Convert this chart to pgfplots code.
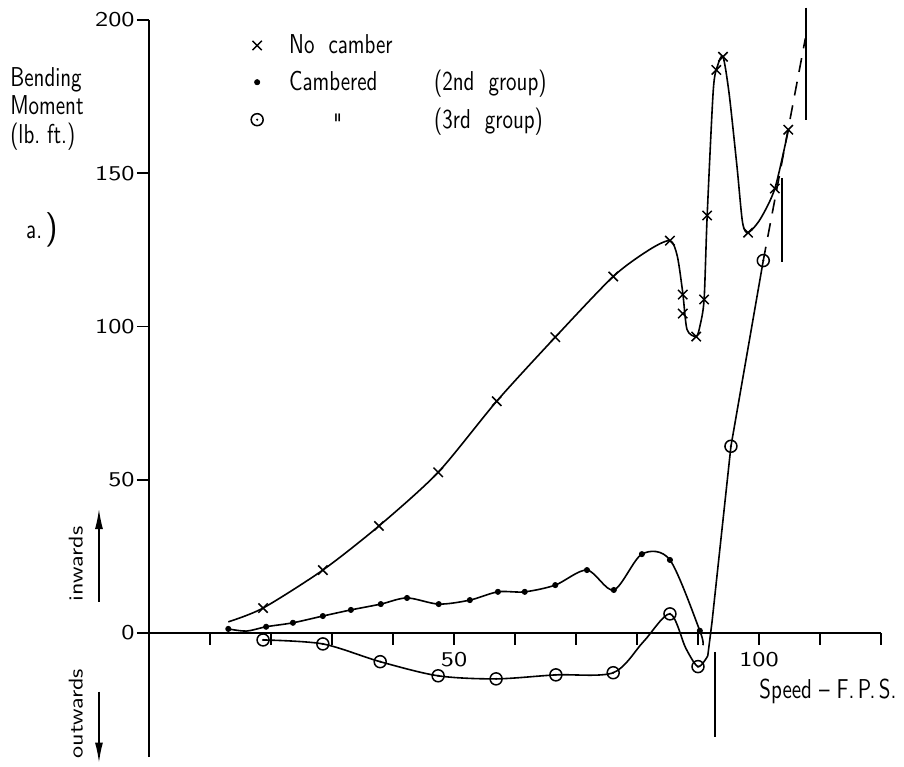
\documentclass[border=0pt]{standalone}
\usepackage{graphicx}
\usepackage{pgfplots}
\pgfplotsset{compat=1.18}
\usetikzlibrary{arrows.meta}

% circle with a centre dot, as in the 3rd group
\pgfdeclareplotmark{odot}{%
  \pgfpathcircle{\pgfpointorigin}{\pgfplotmarksize}\pgfusepathqstroke
  \pgfpathcircle{\pgfpointorigin}{0.6pt}\pgfusepathqfill}

\newcommand{\lbl}{\sffamily\fontsize{10.5}{14.3}\selectfont}
\newcommand{\tall}[1]{\scalebox{1}[1.3]{#1}}   % lettering is taller than LM
\newcommand{\wide}[1]{\scalebox{1.25}[1]{#1}}  % round wide digits
\newcommand{\side}[1]{\scalebox{1.15}[0.95]{#1}}

\begin{document}
\begin{tikzpicture}
\begin{axis}[
  scale only axis, width=366pt, height=368.5pt,
  xmin=0, xmax=120, ymin=-40.5, ymax=200,
  axis x line=middle, axis y line=left,
  axis line style={-, line width=0.85pt},
  clip=false,
  tick align=outside,
  xtick={10,20,...,120}, xticklabels={,,,,\wide{50},,,,,\wide{100},,},
  ytick={0,50,100,150,200},
  yticklabel={\wide{\pgfmathprintnumber{\tick}}},
  major tick length=6pt,
  tick style={black, line width=0.85pt},
  hide obscured x ticks=false, hide obscured y ticks=false,
  /pgf/number format/assume math mode=true,
  ticklabel style={font=\lbl},
  yticklabel style={inner sep=1pt},
  legend style={draw=none, fill=none, font=\lbl, at={(axis cs:15.7,198)},
    anchor=north west, row sep=3pt, cells={anchor=west}},
]
% curves
\addplot[smooth, tension=0.45, line width=0.8pt, forget plot] coordinates {
 (13,3.6)(18.7,8.1)(28.5,20.5)(37.7,34.9)(47.4,52.4)(57,75.6)(66.6,96.5)
 (76.1,116.3)(82,125)(85.4,128)(86.6,123)(87.5,111)(88.2,99)(89.7,96.7)
 (90.3,100)(91,108.8)(91.5,136)(92.5,177)(93.2,185)(94.1,188)(95.1,176)
 (96.4,152)(97.3,134)(98.2,130.6)(100.2,135)(102.6,145)(104.8,164)};
\addplot[smooth, tension=0.5, line width=0.8pt, forget plot] coordinates {
 (13,1.3)(16,0.6)(19.2,2)(23.6,3.3)(28.5,5.5)(33.1,7.5)(38,9.4)(42.3,11.4)
 (47.5,9.4)(52.6,10.7)(57.2,13.4)(61.6,13.4)(66.6,15.6)(71.8,20.5)(76.2,14)
 (80.8,25.7)(85.4,23.8)(90.3,0.7)(90.8,-4)};
\addplot[smooth, tension=0.5, line width=0.8pt, forget plot] coordinates {
 (18.7,-2.3)(28.5,-3.6)(37.9,-9.4)(47.4,-14)(56.9,-15)(66.7,-13.7)(76.1,-13)
 (81,-3)(85.4,6.2)(88,-5)(90,-11)(91.6,-7.5)};
\addplot[line width=0.8pt, forget plot] coordinates {
 (91.6,-7.5)(92.3,3.6)(95.4,60.9)(100.7,121.5)};
\addplot[dashed, dash pattern=on 7pt off 5pt, line width=0.8pt, forget plot] coordinates {
 (100.7,121.5)(107.6,194)};
% vertical limit lines
\addplot[line width=0.8pt, forget plot] coordinates {(92.8,-6.2)(92.8,-34)};
\addplot[line width=0.8pt, forget plot] coordinates {(103.8,148.5)(103.8,121)};
\addplot[line width=0.8pt, forget plot] coordinates {(107.7,204)(107.7,167.4)};

% measured points
\addplot[only marks, mark=x, mark size=3.3pt, mark options={line width=0.75pt}] coordinates {
 (18.7,8.1)(28.5,20.5)(37.7,34.9)(47.4,52.4)(57,75.6)(66.6,96.5)(76.1,116.3)
 (85.4,128)(87.5,110.4)(87.5,104.2)(89.7,96.7)(91,108.8)(91.5,136.2)
 (93,183.7)(94.1,188)(98.2,130.6)(102.6,145)(104.8,164.2)};
\addlegendentry{\hspace{11pt}\tall{No\ \ camber}}
\addplot[only marks, mark=*, mark size=1.3pt] coordinates {
 (13,1.3)(19.2,2)(23.6,3.3)(28.5,5.5)(33.1,7.5)(38,9.4)(42.3,11.4)(47.5,9.4)
 (52.6,10.7)(57.2,13.4)(61.6,13.4)(66.6,15.6)(71.8,20.5)(76.2,14)(80.8,25.7)
 (85.4,23.8)(90.3,0.7)};
\addlegendentry{\hspace{11pt}\tall{\makebox[72.5pt][l]{Cambered}(2nd\ \ group)}}
\addplot[only marks, mark=odot, mark size=3pt, mark options={line width=0.75pt}] coordinates {
 (18.7,-2.3)(28.5,-3.6)(37.9,-9.4)(47.4,-14)(56.9,-15)(66.7,-13.7)(76.1,-13)
 (85.4,6.2)(90,-11)(95.4,60.9)(100.7,121.5)};
\addlegendentry{\hspace{11pt}\tall{\makebox[72.5pt][l]{\hspace{22pt}\raisebox{-0.4ex}{\textquotedbl}}(3rd\ \ group)}}

% labels
\node[font=\lbl, align=left, anchor=north west, inner sep=0pt] at (axis cs:-22.8,184.7)
  {\tall{Bending}\\\tall{Moment}\\\tall{(lb.\ ft.)}};
\node[font=\lbl] at (axis cs:-17.5,131.5) {\tall{a.}\,{\LARGE )}};
\node[font=\lbl, rotate=90] at (axis cs:-12,22.5) {\side{inwards}};
\draw[-{Latex[length=10pt,width=4pt]}, line width=0.7pt] (axis cs:-8.2,10.1) -- (axis cs:-8.2,40.4);
\node[font=\lbl, rotate=90] at (axis cs:-12,-26.3) {\side{outwards}};
\draw[-{Latex[length=10pt,width=4pt]}, line width=0.7pt] (axis cs:-8.2,-19.2) -- (axis cs:-8.2,-42.3);
\node[font=\lbl] at (axis cs:111.3,-19.2) {\tall{Speed -- F.\,P.\,S.}};
\end{axis}
\pgfresetboundingbox
\path[use as bounding box] (-74.5pt,-4.5pt) rectangle (377.5pt,378.5pt);
\end{tikzpicture}
\end{document}
